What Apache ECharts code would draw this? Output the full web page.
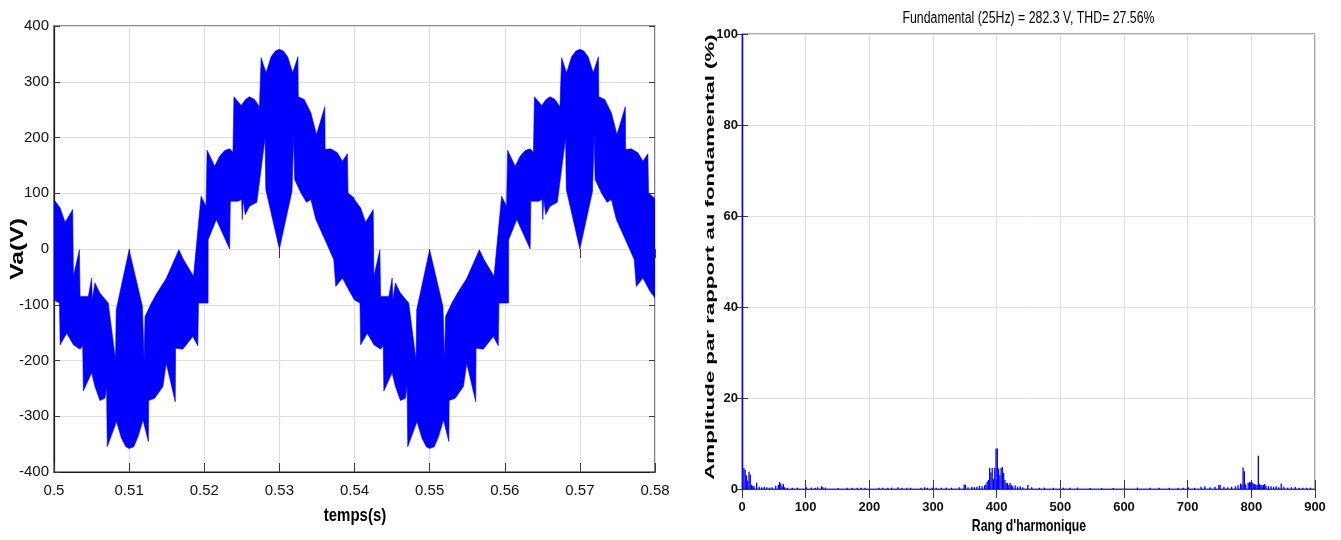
<!DOCTYPE html>
<html>
<head>
<meta charset="utf-8">
<title>Va(V) et spectre</title>
<script src="https://cdn.jsdelivr.net/npm/echarts@6/dist/echarts.min.js"></script>
<style>
  html, body { margin: 0; padding: 0; background: #fff; }
  #chart { width: 1341px; height: 540px; }
</style>
</head>
<body>
<div id="chart"></div>
<script>
// Va(V) : enveloppe haute / basse de la bande MLI, [t (s), V]
var waveUpper = [
  [0.5, 88.6], [0.50082, 73.7], [0.50148, 48], [0.50249, 70.7], [0.50258, -49.1], [0.50338, -1.2], [0.50347, -85],
  [0.50457, -85], [0.50501, -52.1], [0.5051, -91], [0.50545, -61.1], [0.50611, -79], [0.50722, -97], [0.50819, -199],
  [0.50828, -109], [0.51, -1.2], [0.51177, -103], [0.51199, -199], [0.51212, -121], [0.51296, -97], [0.51371, -79],
  [0.51494, -52.7], [0.51662, -1.2], [0.51724, -19], [0.51857, -49], [0.51958, 94.6], [0.52024, 76.6],
  [0.52038, 177.2], [0.52139, 148.5], [0.52205, 166.5], [0.52272, 176.6], [0.52338, 179.6], [0.52382, 173.7],
  [0.52395, 273.1], [0.52492, 257.5], [0.5255, 268.3], [0.52603, 273.1], [0.52669, 268.3], [0.52735, 255.1],
  [0.52757, 343.1], [0.52823, 316.2], [0.5289, 344.9], [0.52947, 355.1], [0.53, 358.1], [0.53053, 355.1],
  [0.5311, 344.9], [0.53177, 316.2], [0.53247, 344.9], [0.53252, 273.1], [0.53331, 268.3], [0.53419, 244.3],
  [0.53494, 205.4], [0.53605, 255.1], [0.53609, 178.4], [0.53684, 179.6], [0.53773, 172.5], [0.53839, 157.5],
  [0.53905, 170.7], [0.53914, 100.6], [0.53993, 91.6],
  [0.54, 88.6], [0.54082, 73.7], [0.54148, 48], [0.54249, 70.7], [0.54258, -49.1], [0.54338, -1.2], [0.54347, -85],
  [0.54457, -85], [0.54501, -52.1], [0.5451, -91], [0.54545, -61.1], [0.54611, -79], [0.54722, -97], [0.54819, -199],
  [0.54828, -109], [0.55, -1.2], [0.55177, -103], [0.55199, -199], [0.55212, -121], [0.55296, -97], [0.55371, -79],
  [0.55494, -52.7], [0.55662, -1.2], [0.55724, -19], [0.55857, -49], [0.55958, 94.6], [0.56024, 76.6],
  [0.56038, 177.2], [0.56139, 148.5], [0.56205, 166.5], [0.56272, 176.6], [0.56338, 179.6], [0.56382, 173.7],
  [0.56395, 273.1], [0.56492, 257.5], [0.5655, 268.3], [0.56603, 273.1], [0.56669, 268.3], [0.56735, 255.1],
  [0.56757, 343.1], [0.56823, 316.2], [0.5689, 344.9], [0.56947, 355.1], [0.57, 358.1], [0.57053, 355.1],
  [0.5711, 344.9], [0.57177, 316.2], [0.57247, 344.9], [0.57252, 273.1], [0.57331, 268.3], [0.57419, 244.3],
  [0.57494, 205.4], [0.57605, 255.1], [0.57609, 178.4], [0.57684, 179.6], [0.57773, 172.5], [0.57839, 157.5],
  [0.57905, 170.7], [0.57914, 100.6], [0.57993, 91.6], [0.58, 89]
];
var waveLower = [
  [0.5, -91.6], [0.50073, -97], [0.50082, -171.9], [0.5017, -150.9], [0.50258, -171.9], [0.50347, -179.6],
  [0.50382, -173.7], [0.50391, -254.5], [0.50501, -222], [0.50545, -246.7], [0.50611, -271.9], [0.50678, -267.7],
  [0.507, -246.7], [0.50709, -354.5], [0.50832, -309.6], [0.50898, -339.5], [0.50956, -354.5], [0.51, -358],
  [0.51062, -354.5], [0.51119, -336.5], [0.51185, -306.6], [0.51256, -345.5], [0.5126, -271.9], [0.5134, -267.7],
  [0.5145, -246.7], [0.51494, -205], [0.51614, -274], [0.51618, -178], [0.51715, -179.6], [0.51848, -156.9],
  [0.51914, -173.7], [0.51923, -97], [0.52024, -97],
  [0.52051, -97], [0.52052, 16.8], [0.52161, 52.7], [0.52338, 0], [0.52347, 85.6], [0.52448, 85.6], [0.52497, 88.6],
  [0.52506, 52.7], [0.52519, 88.6], [0.52545, 61.7], [0.52603, 76.6], [0.527, 83.8], [0.5281, 199.4], [0.52819, 106.6],
  [0.53, 0], [0.53168, 103.6], [0.5319, 202.4], [0.53203, 124.6], [0.53287, 100.6], [0.53362, 83.8], [0.53419, 88.6],
  [0.53486, 52.7], [0.53662, 0], [0.53724, -19.2], [0.53751, -67.1], [0.53839, -52.1], [0.53927, -74.3],
  [0.54, -91.6], [0.54073, -97], [0.54082, -171.9], [0.5417, -150.9], [0.54258, -171.9], [0.54347, -179.6],
  [0.54382, -173.7], [0.54391, -254.5], [0.54501, -222], [0.54545, -246.7], [0.54611, -271.9], [0.54678, -267.7],
  [0.547, -246.7], [0.54709, -354.5], [0.54832, -309.6], [0.54898, -339.5], [0.54956, -354.5], [0.55, -358],
  [0.55062, -354.5], [0.55119, -336.5], [0.55185, -306.6], [0.55256, -345.5], [0.5526, -271.9], [0.5534, -267.7],
  [0.5545, -246.7], [0.55494, -205], [0.55614, -274], [0.55618, -178], [0.55715, -179.6], [0.55848, -156.9],
  [0.55914, -173.7], [0.55923, -97], [0.56024, -97],
  [0.56051, -97], [0.56052, 16.8], [0.56161, 52.7], [0.56338, 0], [0.56347, 85.6], [0.56448, 85.6], [0.56497, 88.6],
  [0.56506, 52.7], [0.56519, 88.6], [0.56545, 61.7], [0.56603, 76.6], [0.567, 83.8], [0.5681, 199.4], [0.56819, 106.6],
  [0.57, 0], [0.57168, 103.6], [0.5719, 202.4], [0.57203, 124.6], [0.57287, 100.6], [0.57362, 83.8], [0.57419, 88.6],
  [0.57486, 52.7], [0.57662, 0], [0.57724, -19.2], [0.57751, -67.1], [0.57839, -52.1], [0.57927, -74.3], [0.58, -88]
];

// spectre : [rang d'harmonique, amplitude en % du fondamental]
var spectrum = [
  [1, 100], [3, 4.6], [5, 4.2], [7, 3.0], [9, 1.8], [11, 3.8], [13, 3.2], [15, 0.9], [17, 0.7], [19, 0.6], [23, 1.4],
  [27, 0.5], [31, 0.4], [35, 0.5], [39, 0.4], [43, 0.3], [47, 0.4], [53, 0.7], [57, 0.9], [59, 1.5], [61, 1.2],
  [63, 0.6], [65, 1.1], [67, 0.4], [71, 0.3], [79, 0.3], [87, 0.3], [101, 0.4], [109, 0.3], [115, 0.3], [119, 0.4],
  [125, 0.6], [127, 0.4], [131, 0.3], [151, 0.2], [165, 0.3], [173, 0.3], [181, 0.3], [187, 0.3], [193, 0.3],
  [215, 0.3], [221, 0.3], [229, 0.3], [235, 0.3], [245, 0.4], [251, 0.3], [259, 0.3], [265, 0.3], [281, 0.3],
  [287, 0.4], [291, 0.3], [299, 0.3], [305, 0.3], [313, 0.3], [321, 0.3], [329, 0.3], [341, 0.4], [349, 1.0],
  [351, 0.9], [355, 0.4], [361, 0.5], [365, 0.4], [369, 0.5], [373, 0.7], [377, 0.6], [381, 0.8], [383, 1.0],
  [385, 1.6], [387, 2.0], [389, 4.6], [391, 3.6], [393, 4.6], [395, 2.2], [397, 4.6], [399, 8.9], [401, 8.9],
  [403, 4.5], [405, 3.0], [407, 4.6], [409, 4.8], [411, 3.5], [413, 2.0], [415, 1.3], [417, 1.3], [419, 0.8],
  [421, 1.3], [423, 0.9], [425, 0.6], [429, 0.8], [433, 0.5], [437, 0.6], [441, 0.4], [449, 0.9], [455, 0.4],
  [467, 0.3], [475, 0.3], [489, 0.3], [505, 0.3], [515, 0.3], [527, 0.3], [547, 0.2], [565, 0.2], [583, 0.2],
  [601, 0.2], [621, 0.3], [641, 0.3], [655, 0.3], [671, 0.3], [685, 0.3], [693, 0.3], [701, 0.4], [711, 0.3],
  [721, 0.5], [727, 0.6], [735, 0.4], [743, 0.5], [749, 0.9], [751, 0.9], [757, 0.5], [763, 0.4], [769, 0.5],
  [775, 0.6], [779, 0.8], [783, 1.2], [785, 1.0], [787, 4.7], [789, 3.9], [791, 1.0], [795, 1.3], [797, 1.5],
  [799, 1.5], [801, 1.5], [803, 1.2], [805, 1.1], [807, 1.0], [809, 0.9], [811, 7.3], [813, 1.1], [815, 0.9],
  [817, 0.8], [819, 0.9], [821, 1.1], [823, 0.7], [827, 0.6], [831, 0.6], [835, 0.5], [839, 0.6], [843, 0.4],
  [847, 1.2], [851, 0.5], [857, 0.3], [863, 0.4], [869, 0.5], [875, 0.3], [881, 0.3], [887, 0.3], [893, 0.3]
];

var titleText = 'Fundamental (25Hz) = 282.3 V, THD= 27.56%';
var sans = '"Liberation Sans", Arial, sans-serif';
var gridColor = '#dedede';

function tickAxis(grid, pos, min, max, interval, len) {
  // axes secondaires : seulement les graduations (haut / droite)
  return {
    gridIndex: grid, type: 'value', position: pos, min: min, max: max, interval: interval,
    axisLine: { show: false },
    axisTick: { show: true, inside: true, length: len, lineStyle: { color: '#3a3a3a' } },
    axisLabel: { show: false },
    splitLine: { show: false }
  };
}

// textes étirés (la figure d'origine est étirée verticalement)
function label(text, x, y, font, scale, rotated) {
  return {
    type: 'text', x: x, y: y, silent: true,
    rotation: rotated ? Math.PI / 2 : 0,
    scaleX: rotated ? scale : 1 / scale,
    style: {
      text: text, font: font, fill: '#000',
      textAlign: 'center', textVerticalAlign: 'middle', align: 'center', verticalAlign: 'middle'
    }
  };
}

var chart = echarts.init(document.getElementById('chart'));

var option = {
  animation: false,
  backgroundColor: '#fff',
  grid: [
    { left: 54, top: 26, width: 601, height: 446, show: true, borderColor: '#1a1a1a', borderWidth: 1.2 },
    { left: 742, top: 34, width: 573, height: 455, show: true, borderColor: '#4a4a4a', borderWidth: 1 }
  ],
  xAxis: [
    {
      gridIndex: 0, type: 'value', min: 0.5, max: 0.58, interval: 0.01,
      axisLine: { show: true, onZero: false, lineStyle: { color: '#1a1a1a', width: 1.2 } },
      axisTick: { inside: true, length: 9, lineStyle: { color: '#3a3a3a' } },
      axisLabel: {
        margin: 11, fontFamily: sans, fontSize: 15, color: '#111',
        formatter: function (v) { return String(+v.toFixed(2)); }
      },
      splitLine: { show: true, lineStyle: { color: gridColor, width: 1.2 } }
    },
    tickAxis(0, 'top', 0.5, 0.58, 0.01, 9),
    {
      gridIndex: 1, type: 'value', min: 0, max: 900, interval: 100,
      axisLine: { show: true, onZero: false, lineStyle: { color: '#2b2bff', width: 1.2 } },
      axisTick: { inside: true, length: 9, lineStyle: { color: '#3a3a3a' } },
      axisLabel: { margin: 12, fontFamily: sans, fontWeight: 'bold', fontSize: 13, color: '#111' },
      splitLine: { show: true, lineStyle: { color: gridColor } }
    },
    tickAxis(1, 'top', 0, 900, 100, 9)
  ],
  yAxis: [
    {
      gridIndex: 0, type: 'value', min: -400, max: 400, interval: 100,
      axisLine: { show: true, onZero: false, lineStyle: { color: '#1a1a1a', width: 1.2 } },
      axisTick: { inside: true, length: 6, lineStyle: { color: '#3a3a3a' } },
      axisLabel: { margin: 5, fontFamily: sans, fontSize: 15, color: '#111' },
      splitLine: { show: true, lineStyle: { color: gridColor, width: 1.2 } }
    },
    tickAxis(0, 'right', -400, 400, 100, 6),
    {
      gridIndex: 1, type: 'value', min: 0, max: 100, interval: 20,
      axisLine: { show: true, onZero: false, lineStyle: { color: '#4a4a4a' } },
      axisTick: { inside: true, length: 6, lineStyle: { color: '#3a3a3a' } },
      axisLabel: { margin: 4, fontFamily: sans, fontWeight: 'bold', fontSize: 13, color: '#111' },
      splitLine: { show: true, lineStyle: { color: gridColor } }
    },
    tickAxis(1, 'right', 0, 100, 20, 6)
  ],
  graphic: [
    label(titleText, 1028.5, 19, '16px ' + sans, 1.3, false),
    label('temps(s)', 355, 516, 'bold 18px ' + sans, 1.2, false),
    label("Rang d'harmonique", 1029, 526, 'bold 16.5px ' + sans, 1.35, false),
    label('Va(V)', 18.5, 249, 'bold 18px ' + sans, 1.37, true),
    label('Amplitude par rapport au fondamental (%)', 710.5, 257, 'bold 13.5px ' + sans, 1.65, true)
  ],
  series: [
    {
      name: 'Va', type: 'custom', coordinateSystem: 'cartesian2d',
      xAxisIndex: 0, yAxisIndex: 0, silent: true, clip: true,
      data: [[0.54, 0]],
      renderItem: function (params, api) {
        var pts = [];
        waveUpper.forEach(function (p) { pts.push(api.coord(p)); });
        for (var i = waveLower.length - 1; i >= 0; i--) pts.push(api.coord(waveLower[i]));
        return {
          type: 'polygon',
          shape: { points: pts },
          style: { fill: '#0000ff', stroke: '#0000ff', lineWidth: 0.6 }
        };
      }
    },
    {
      name: 'spectre', type: 'bar', xAxisIndex: 2, yAxisIndex: 2, silent: true,
      barWidth: 1.3, itemStyle: { color: '#0000ff' },
      data: spectrum
    }
  ]
};

chart.setOption(option);
</script>
</body>
</html>
